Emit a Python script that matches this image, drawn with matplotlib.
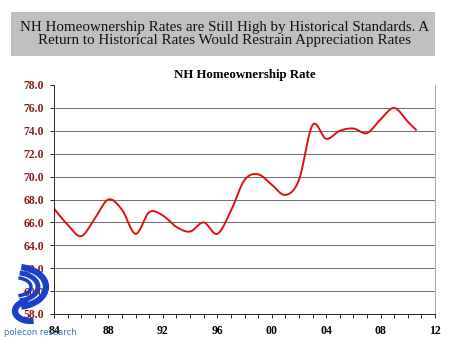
import numpy as np
import matplotlib.pyplot as plt
from matplotlib.patches import Rectangle, Arc

# NH homeownership rate, annual
years = [1984, 1985, 1986, 1987, 1988, 1989, 1990, 1991, 1992, 1993, 1994, 1995, 1996, 1997,
         1998, 1999, 2000, 2001, 2002, 2003, 2004, 2005, 2006, 2007, 2008, 2009, 2010, 2010.6]
rate = [67.2, 65.8, 64.8, 66.35, 68.0, 67.1, 65.0, 66.9, 66.6, 65.6, 65.2, 66.0, 65.0, 67.0,
        69.7, 70.2, 69.3, 68.4, 69.7, 74.5, 73.3, 74.0, 74.2, 73.8, 75.0, 76.0, 74.8, 74.1]
ytick_vals = [58, 60, 62, 64, 66, 68, 70, 72, 74, 76, 78]
xtick_vals = [1984, 1988, 1992, 1996, 2000, 2004, 2008, 2012]
xtick_labels = ['84', '88', '92', '96', '00', '04', '08', '12']

headline = "NH Homeownership Rates are Still High by Historical Standards. A\nReturn to Historical Rates Would Restrain Appreciation Rates"


def smooth(x, y, n=20):
    # catmull-rom style smoothing, like Excel's smoothed line
    x = np.asarray(x, float)
    y = np.asarray(y, float)
    px = np.concatenate([[2 * x[0] - x[1]], x, [2 * x[-1] - x[-2]]])
    py = np.concatenate([[2 * y[0] - y[1]], y, [2 * y[-1] - y[-2]]])
    xs, ys = [], []
    t = np.linspace(0, 1, n, endpoint=False)
    for i in range(1, len(px) - 2):
        for arr, out in ((px, xs), (py, ys)):
            p0, p1, p2, p3 = arr[i - 1], arr[i], arr[i + 1], arr[i + 2]
            out.extend(0.5 * ((2 * p1) + (-p0 + p2) * t + (2 * p0 - 5 * p1 + 4 * p2 - p3) * t ** 2
                              + (-p0 + 3 * p1 - 3 * p2 + p3) * t ** 3))
    xs.append(x[-1])
    ys.append(y[-1])
    return np.array(xs), np.array(ys)


serif = ['Liberation Serif', 'DejaVu Serif']
fig = plt.figure(figsize=(4.5, 3.37), dpi=100)

# headline box
fig.patches.append(Rectangle((11 / 450, 1 - 56 / 337), 424 / 450, 44 / 337, transform=fig.transFigure,
                             facecolor='#c0c0c0', edgecolor='none'))
fig.text(0.5, 1 - 34 / 337, headline, ha='center', va='center', fontsize=10.8,
         family=serif, linespacing=1.05, color='#111111')

ax = fig.add_axes([54 / 450, 1 - 314 / 337, 381 / 450, 229 / 337])
sx, sy = smooth(years, rate)
ax.plot(sx, sy, color='#e01010', lw=1.4)

ax.set_xlim(1984, 2012)
ax.set_ylim(58, 78)
ax.set_yticks(ytick_vals)
ax.set_yticklabels(['%.1f' % v for v in ytick_vals], family=serif, fontsize=8.5,
                   fontweight='bold', color='#8b1a1a')
ax.set_xticks(xtick_vals)
ax.set_xticklabels(xtick_labels, family=serif, fontsize=8.5, fontweight='bold')
ax.set_xticks(range(1984, 2013), minor=True)
ax.tick_params(axis='both', which='both', direction='out', length=3, width=0.6, pad=4)
ax.tick_params(axis='x', which='major', pad=5)
for v in ytick_vals[1:-1]:
    ax.axhline(v, color='#555555', lw=0.6, zorder=0)
ax.spines['top'].set_visible(False)
ax.spines['right'].set_color('#999999')
ax.spines['right'].set_linewidth(0.6)
ax.spines['left'].set_linewidth(0.6)
ax.spines['bottom'].set_linewidth(0.6)
ax.set_title('NH Homeownership Rate', family=serif, fontsize=9.3, fontweight='bold', pad=5)

# polecon logo
lax = fig.add_axes([0, 0, 0.16, 0.25])
lax.set_xlim(0, 72)
lax.set_ylim(0, 84)
lax.axis('off')
for w, h, lw in [(60, 40, 4.5), (44, 28, 3.5), (30, 18, 2.5)]:
    lax.add_patch(Arc((16, 50), w, h, theta1=-75, theta2=75, color='#1a3fc8', lw=lw))
lax.add_patch(Arc((30, 26), 30, 20, theta1=100, theta2=290, color='#1a3fc8', lw=4.5))
fig.text(4 / 450, 1 - 335 / 337, 'polecon research', fontsize=6, color='#3a6fc0',
         family=['Liberation Sans Narrow', 'DejaVu Sans'])

fig.savefig('out.png', dpi=100)
